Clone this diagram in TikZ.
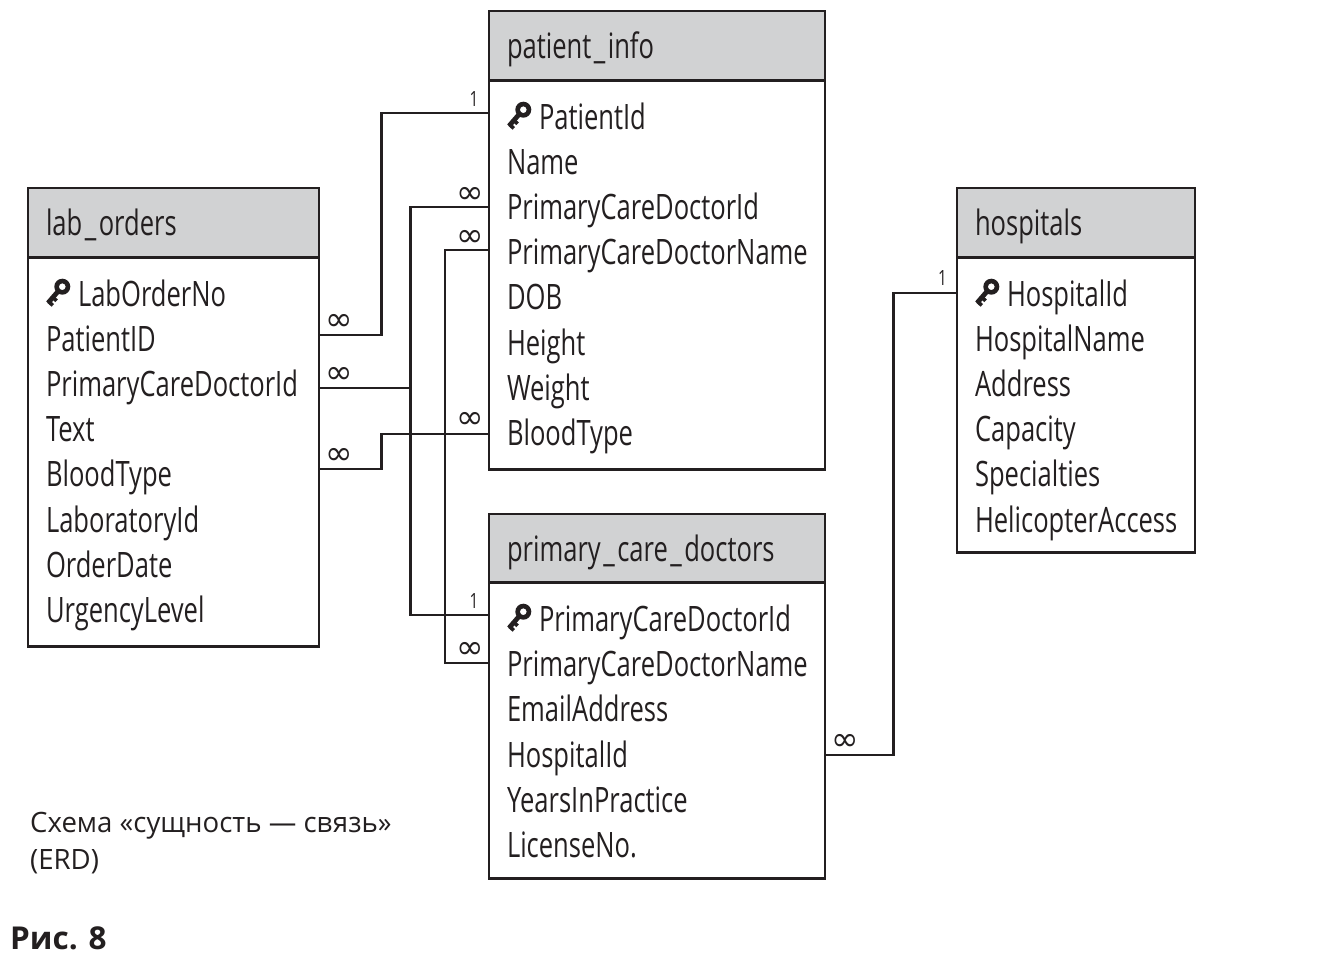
\documentclass[tikz,border=0pt]{standalone}
\usepackage{fontspec}
\setmainfont{Open Sans}
\newfontfamily\condfont[FakeStretch=0.73]{Open Sans}
\newfontfamily\symfont{DejaVu Sans}
\newfontfamily\capfont[FakeStretch=0.985]{Open Sans}
\definecolor{ink}{HTML}{231F20}
\definecolor{headgray}{HTML}{D1D2D3}
\newcommand{\wideus}{\kern2.5pt\_\kern2.5pt}
\tikzset{
  box/.style={draw=ink,line width=2.8pt,fill=white,rectangle,inner sep=0pt,outer sep=0pt,anchor=north west},
  headbox/.style={box,fill=headgray},
  fieldrow/.style={anchor=base west,inner sep=0pt,outer sep=0pt,text=ink,font=\condfont\fontsize{35}{35}\selectfont},
  link/.style={draw=ink,line width=2.7pt,line join=miter},
  many/.style={inner sep=0pt,text=ink,font=\symfont\fontsize{33}{33}\selectfont},
  one/.style={inner sep=0pt,text=ink,font=\condfont\fontsize{21}{21}\selectfont},
  captext/.style={anchor=base west,inner sep=0pt,text=ink,font=\capfont\fontsize{28}{28}\selectfont},
  figlabel/.style={anchor=base west,inner sep=0pt,text=ink,font=\bfseries\fontsize{31.5}{31.5}\selectfont},
  keyicon/.pic={
    \fill[ink,even odd rule] (8.3,-20.3) circle (8) (8.3,-20.3) circle (3.4);
    \draw[ink,line width=4.8pt] (3.5,-15) -- (-6,-4);
    \draw[ink,line width=3.6pt] (-5.5,-5.5) -- (-1.2,-1.6) (-1.5,-10) -- (2.6,-6.2);
  }
}
\newcommand{\tablebox}[6]{%
  % name, x1, y1, x2, y2, header bottom
  \node[box,minimum width=#4pt-#2pt-1pt,minimum height=#5pt-#3pt-0.7pt] (#1) at (#2,#3) {};
  \node[headbox,minimum width=#4pt-#2pt-1pt,minimum height=#6pt-#3pt-0.7pt] (#1-head) at (#2,#3) {};
}
\begin{document}
\begin{tikzpicture}[x=1pt,y=-1pt]
\useasboundingbox (0,0) rectangle (1324,963);

% tables
\tablebox{pi}{489}{11}{826}{470}{81}
\tablebox{lo}{28}{188}{320}{647}{258}
\tablebox{ho}{957}{188}{1196}{553}{258}
\tablebox{pd}{489}{514}{826}{879}{583}

% titles
\node[fieldrow] (pi-title) at (507,59) {patient\wideus info};
\node[fieldrow] (lo-title) at (46,235.5) {lab\wideus orders};
\node[fieldrow] (ho-title) at (975,235.5) {hospitals};
\node[fieldrow] (pd-title) at (507,561) {primary\wideus care\wideus doctors};

% key fields
\node[fieldrow] (pi-key) at (539,129) {PatientId};
\node[fieldrow] (lo-key) at (78,306) {LabOrderNo};
\node[fieldrow] (ho-key) at (1007,306) {HospitalId};
\node[fieldrow] (pd-key) at (539,631.5) {PrimaryCareDoctorId};
\pic at (515,130) {keyicon};
\pic at (54,307) {keyicon};
\pic at (983,307) {keyicon};
\pic at (515,632) {keyicon};

% other fields
\foreach \t [count=\i from 1] in {Name,PrimaryCareDoctorId,PrimaryCareDoctorName,DOB,Height,Weight,BloodType}
  \node[fieldrow] (pi-\i) at (507,{129+45.2*\i}) {\t};
\foreach \t [count=\i from 1] in {PatientID,PrimaryCareDoctorId,Text,BloodType,LaboratoryId,OrderDate,UrgencyLevel}
  \node[fieldrow] (lo-\i) at (46,{306+45.2*\i}) {\t};
\foreach \t [count=\i from 1] in {HospitalName,Address,Capacity,Specialties,HelicopterAccess}
  \node[fieldrow] (ho-\i) at (975,{306+45.2*\i}) {\t};
\foreach \t [count=\i from 1] in {PrimaryCareDoctorName,EmailAddress,HospitalId,YearsInPractice,LicenseNo.}
  \node[fieldrow] (pd-\i) at (507,{631.5+45.2*\i}) {\t};

% ports on the table edges
\coordinate (lo-a) at (lo.east |- 0,335);
\coordinate (lo-b) at (lo.east |- 0,388);
\coordinate (lo-c) at (lo.east |- 0,469);
\coordinate (pi-a) at (pi.west |- 0,113);
\coordinate (pi-b) at (pi.west |- 0,207);
\coordinate (pi-c) at (pi.west |- 0,250);
\coordinate (pi-d) at (pi.west |- 0,434);
\coordinate (pd-a) at (pd.west |- 0,615);
\coordinate (pd-b) at (pd.west |- 0,663);
\coordinate (pd-c) at (pd.east |- 0,755);
\coordinate (ho-a) at (ho.west |- 0,293);
% bend columns
\coordinate (col-a) at (381.5,0);
\coordinate (col-b) at (410.7,0);
\coordinate (col-c) at (445,0);
\coordinate (col-d) at (893.5,0);

% connectors
\draw[link] (lo-a) -- (lo-a -| col-a) -- (pi-a -| col-a) -- (pi-a);
\draw[link] (pi-b) -- (pi-b -| col-b) -- (pd-a -| col-b) -- (pd-a);
\draw[link] (lo-b) -- (lo-b -| col-b);
\draw[link] (lo-c) -- (lo-c -| col-a) -- (pi-d -| col-a) -- (pi-d);
\draw[link] (pi-c) -- (pi-c -| col-c) -- (pd-b -| col-c) -- (pd-b);
\draw[link] (pd-c) -- (pd-c -| col-d) -- (ho-a -| col-d) -- (ho-a);

% cardinality marks
\node[many] (m1) at (339.5,322) {∞};
\node[many] (m2) at (339.5,375) {∞};
\node[many] (m3) at (339.5,456) {∞};
\node[many] (m4) at (470,195) {∞};
\node[many] (m5) at (470,238) {∞};
\node[many] (m6) at (470,420) {∞};
\node[many] (m7) at (470,650) {∞};
\node[many] (m8) at (845.5,742) {∞};
\node[one] (o1) at (474,99) {1};
\node[one] (o2) at (474,601) {1};
\node[one] (o3) at (942.5,278) {1};

% captions
\node[captext] (cap1) at (30,832) {Схема «сущность — связь»};
\node[captext] (cap2) at (30,869) {(ERD)};
\node[figlabel] (fig) at (10,949) {Рис. 8};
\end{tikzpicture}
\end{document}
